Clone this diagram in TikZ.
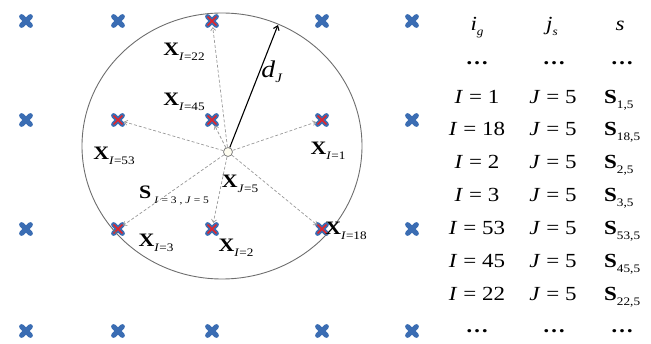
\documentclass[tikz,border=0pt]{standalone}
\usepackage{fontspec}
\setmainfont[FakeStretch=1.15]{Liberation Serif}
\usetikzlibrary{arrows.meta}
\definecolor{xblue}{HTML}{3B6DB3}
\definecolor{xred}{HTML}{E0262B}
\definecolor{rim}{HTML}{6E6E6E}
\newcommand{\lsub}[1]{\raisebox{-5pt}{\fontsize{11.5}{13}\selectfont#1}}
\newcommand{\Xl}[1]{\textbf{X}\lsub{#1}}
\begin{document}
\begin{tikzpicture}[x=1pt,y=-1pt,
  bx/.style={circle,minimum size=12pt,inner sep=0pt},
  bluestroke/.style={draw=xblue,line width=5pt,line cap=round},
  redstroke/.style={draw=xred,line width=1.7pt},
  ray/.style={draw=gray!80,densely dashed,line width=0.7pt,-{Straight Barb[length=3pt,width=5pt]}},
  lbl/.style={font=\fontsize{19}{21}\selectfont,inner sep=0pt},
  tbl/.style={font=\fontsize{20}{24}\selectfont,inner sep=0pt,anchor=base}]
\path[use as bounding box] (0,0) rectangle (651,344);
% grid of crosses
\foreach \x [count=\i] in {26,118,212,322,412}
  \foreach \y [count=\j] in {21,120,229,331} {
    \node[bx] (g\i\j) at (\x,\y) {};
    \draw[bluestroke] (g\i\j.north west) -- (g\i\j.south east)
                      (g\i\j.north east) -- (g\i\j.south west);
  }
\foreach \t in {g31,g22,g32,g42,g23,g33,g43}
  \draw[redstroke] (\t.north west) -- (\t.south east)
                   (\t.north east) -- (\t.south west);
% circle
\draw[rim,line width=0.9pt] (222,146) ellipse [x radius=140, y radius=133];
\coordinate (edge) at (278,25);
% centre
\node[circle,draw=gray,fill=yellow!6!white,minimum size=9pt,inner sep=0pt,line width=0.8pt] (c) at (228,152) {};
\foreach \t in {g31,g22,g32,g42,g23,g33,g43}
  \draw[ray] (c) -- (\t);
\draw[line width=1.1pt,-{Straight Barb[length=4pt,width=6pt]}] (c) -- (edge);
% labels
\node[font=\fontsize{24}{26}\selectfont,inner sep=0pt] (dj) at (272,72) {\textit{d}\raisebox{-5pt}{\fontsize{13}{15}\selectfont\textit{J}}};
\node[lbl] (l22) at (184,52) {\Xl{\textit{I}=22}};
\node[lbl] (l45) at (184,102) {\Xl{\textit{I}=45}};
\node[lbl] (l53) at (114,156) {\Xl{\textit{I}=53}};
\node[lbl] (l1) at (328,151) {\Xl{\textit{I}=1}};
\node[lbl] (l5) at (240,184) {\Xl{\textit{J}=5}};
\node[lbl] (ls) at (174,195) {\textbf{S}\,\raisebox{-5pt}{\fontsize{10}{12}\selectfont\textit{I} = 3 , \textit{J} = 5}};
\node[lbl] (l3) at (156,243) {\Xl{\textit{I}=3}};
\node[lbl] (l2) at (236,248) {\Xl{\textit{I}=2}};
\node[lbl] (l18) at (346,231) {\Xl{\textit{I}=18}};
% table
\node[tbl] (h1) at (477,31) {\textit{i}\lsub{\textit{g}}};
\node[tbl] (h2) at (552,31) {\textit{j}\lsub{\textit{s}}};
\node[tbl] (h3) at (620,31) {\textit{s}};
\foreach \x/\n in {477/a,554/b,622/c} {
  \node[tbl] (d1\n) at (\x,65) {\textbf{\dots}};
  \node[tbl] (d2\n) at (\x,333) {\textbf{\dots}};
}
\foreach \i/\y [count=\k] in {1/104,18/136,2/169,3/202,53/235,45/268,22/301} {
  \node[tbl] (ri\k) at (477,\y) {\textit{I} = \i};
  \node[tbl] (rj\k) at (553,\y) {\textit{J} = 5};
  \node[tbl,anchor=base west] (rs\k) at (604,\y) {\textbf{S}\lsub{\i,5}};
}
\end{tikzpicture}
\end{document}
